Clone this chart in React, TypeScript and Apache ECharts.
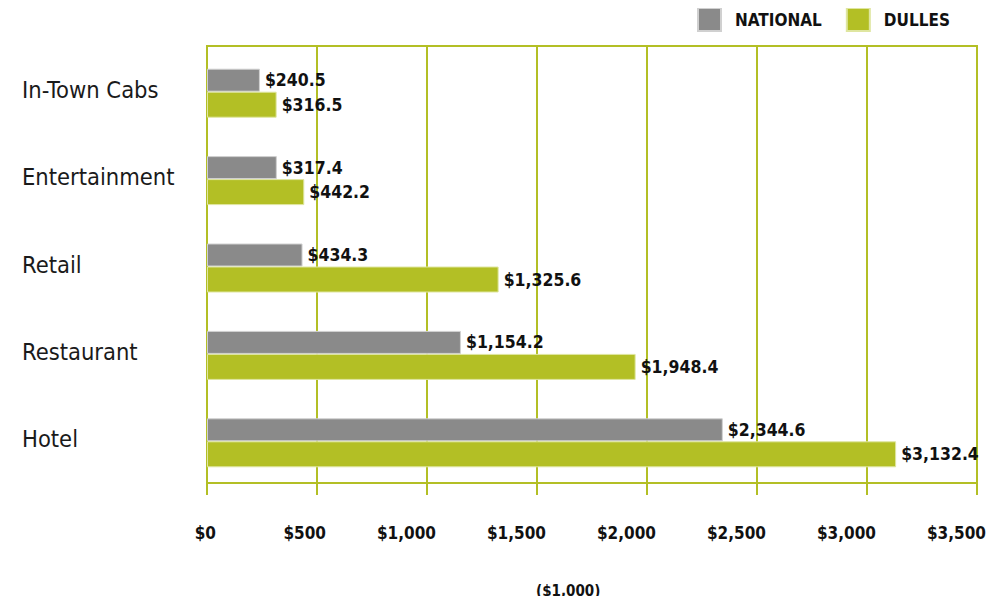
import React, { useEffect, useRef } from "react";
import * as echarts from "echarts";

const categories = ["In-Town Cabs", "Entertainment", "Retail", "Restaurant", "Hotel"];
const nationalValues = [240.5, 317.4, 434.3, 1154.2, 2344.6];
const dullesValues = [316.5, 442.2, 1325.6, 1948.4, 3132.4];
const seriesNames = ["NATIONAL", "DULLES"];
const axisUnit = "($1,000)";

const FONT = "'Liberation Sans Narrow', 'DejaVu Sans Condensed', Arial, sans-serif";
const GREEN = "#b3bf25";
const GRAY = "#8a8a8a";

const fmt = (v: number) =>
  "$" + v.toLocaleString("en-US", { minimumFractionDigits: 1, maximumFractionDigits: 1 });
const fmtAxis = (v: number) => "$" + v.toLocaleString("en-US");

export default function App() {
  const ref = useRef<HTMLDivElement>(null);
  useEffect(() => {
    if (!ref.current) return;
    const chart = echarts.init(ref.current, null, { renderer: "svg" });
    const barLabel = {
      show: true,
      position: "right" as const,
      distance: 5,
      fontFamily: FONT,
      fontWeight: "bold" as const,
      fontSize: 17.5,
      color: "#111",
      formatter: (p: any) => fmt(p.value),
    };
    chart.setOption({
      animation: false,
      backgroundColor: "#ffffff",
      grid: {
        left: 207,
        right: 22,
        top: 46,
        bottom: 121,
        show: true,
        borderColor: GREEN,
        borderWidth: 2,
      },
      legend: {
        left: 697,
        top: 7,
        padding: 0,
        itemWidth: 23,
        itemHeight: 23,
        itemGap: 24,
        icon: "rect",
        data: seriesNames,
        textStyle: {
          fontFamily: FONT,
          fontWeight: "bold",
          fontSize: 17,
          color: "#111",
          padding: [0, 0, 0, 9],
        },
      },
      xAxis: {
        type: "value",
        min: 0,
        max: 3500,
        interval: 500,
        axisLine: { show: true, lineStyle: { color: GREEN, width: 2 } },
        axisTick: { show: true, length: 12, lineStyle: { color: GREEN, width: 2 } },
        splitLine: { show: true, lineStyle: { color: GREEN, width: 2 } },
        axisLabel: {
          margin: 41,
          fontFamily: FONT,
          fontWeight: "bold",
          fontSize: 17,
          color: "#111",
          align: "right",
          padding: [0, -9, 0, 0],
          formatter: (v: number) => fmtAxis(v),
        },
      },
      yAxis: {
        type: "category",
        data: categories,
        inverse: true,
        axisLine: { show: true, lineStyle: { color: GREEN, width: 2 } },
        axisTick: { show: false },
        axisLabel: {
          align: "left",
          margin: 185,
          fontFamily: FONT,
          fontSize: 23.5,
          color: "#1a1a1a",
        },
      },
      graphic: [
        {
          type: "text",
          left: 536,
          top: 583,
          style: {
            text: axisUnit,
            fontFamily: FONT,
            fontWeight: "bold",
            fontSize: 15,
            fill: "#111",
          },
        },
      ],
      series: [
        {
          name: "spacer",
          type: "bar",
          data: categories.map(() => "-"),
          barWidth: 7,
          barGap: "0%",
          silent: true,
          itemStyle: { color: "transparent" },
        },
        {
          name: seriesNames[0],
          type: "bar",
          data: nationalValues,
          barWidth: 23,
          barGap: "0%",
          itemStyle: { color: GRAY, borderColor: "#d0d0d0", borderWidth: 1 },
          label: barLabel,
        },
        {
          name: seriesNames[1],
          type: "bar",
          data: dullesValues,
          barWidth: 26,
          barGap: "0%",
          itemStyle: { color: GREEN, borderColor: "#dfe6a0", borderWidth: 1 },
          label: barLabel,
        },
      ],
    });
    return () => chart.dispose();
  }, []);
  return <div ref={ref} style={{ width: 999, height: 604, margin: -8 }} />;
}
